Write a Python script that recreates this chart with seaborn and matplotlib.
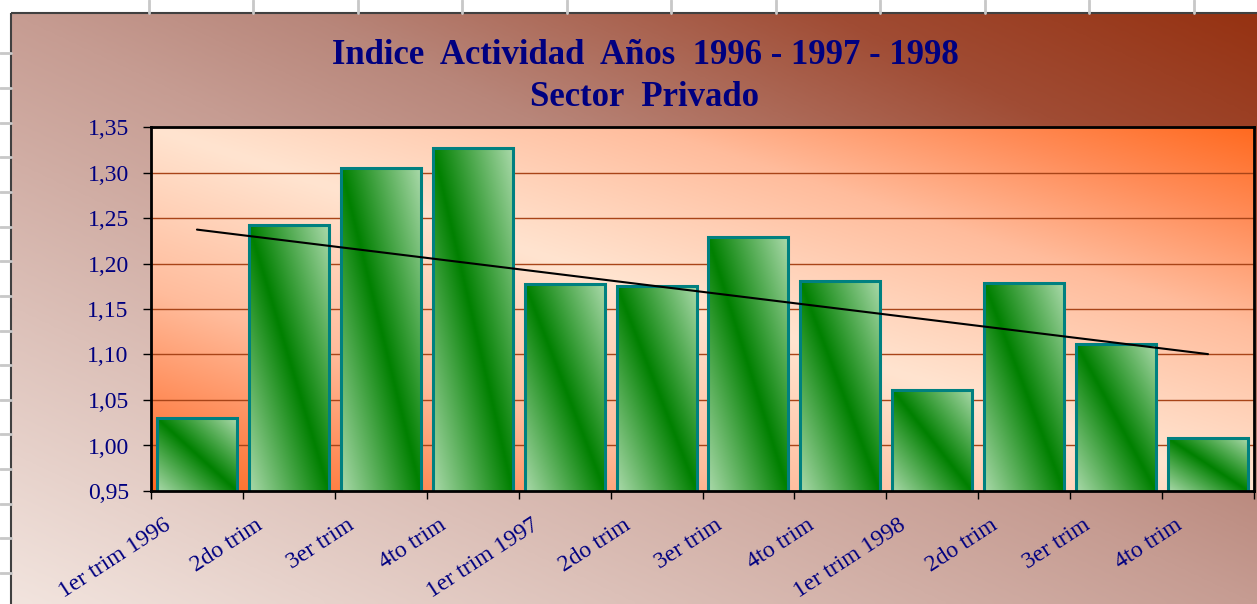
import numpy as np
import matplotlib
matplotlib.use("Agg")
import matplotlib.pyplot as plt
from matplotlib.colors import LinearSegmentedColormap
from matplotlib.patches import Rectangle
from matplotlib.transforms import ScaledTranslation
import seaborn as sns

# datos del grafico
trimestres = ["1er trim 1996", "2do trim", "3er trim", "4to trim",
              "1er trim 1997", "2do trim", "3er trim", "4to trim",
              "1er trim 1998", "2do trim", "3er trim", "4to trim"]
indice = [1.030, 1.242, 1.305, 1.327, 1.177, 1.175,
          1.229, 1.181, 1.061, 1.179, 1.112, 1.008]
y_ticks = [0.95, 1.00, 1.05, 1.10, 1.15, 1.20, 1.25, 1.30, 1.35]
titulo = "Indice  Actividad  Años  1996 - 1997 - 1998"
subtitulo = "Sector  Privado"

W, H = 1257, 604
AZUL = "#000080"
FUENTE = "Liberation Serif"

sns.set_theme(style="ticks")
plt.rcParams["font.family"] = [FUENTE, "DejaVu Serif"]

fig = plt.figure(figsize=(W / 100, H / 100), dpi=100)
fig.patch.set_facecolor("white")

# fondo: hoja de calculo + area del grafico con degradado
bg = fig.add_axes([0, 0, 1, 1])
bg.set_xlim(0, W)
bg.set_ylim(H, 0)
bg.axis("off")
for x in 148.5 + 104.55 * np.arange(11):
    bg.plot([x, x], [0, 13], color="#c8c8c8", lw=2)
for y in 53.3 + 34.65 * np.arange(16):
    bg.plot([0, 11], [y, y], color="#c8c8c8", lw=2)

cmap_fondo = LinearSegmentedColormap.from_list(
    "fondo", [(0, "#f2e4de"), (0.5, "#c69c92"), (0.62, "#b8867a"),
              (0.83, "#a04c34"), (1, "#963212")])
u, v = np.meshgrid(np.linspace(0, 1, 300), np.linspace(0, 1, 200))
bg.imshow((u + (1 - v)) / 2, extent=(11, W, H, 13), origin="upper",
          cmap=cmap_fondo, vmin=0, vmax=1, aspect="auto", interpolation="bicubic")
bg.add_patch(Rectangle((11, 13), W, H, fill=False, ec="#404040", lw=1.5))

# area de trazado
ax = fig.add_axes([151 / W, 1 - 491 / H, 1103 / W, 364 / H])
cmap_area = LinearSegmentedColormap.from_list(
    "area", [(0, "#ffe4d0"), (0.45, "#ffbc9c"), (0.75, "#ff8c58"), (1, "#ff6a20")])
ua, va = np.meshgrid(np.linspace(0, 1, 300), np.linspace(0, 1, 200))
ax.imshow(np.abs(ua + va - 1), extent=(0, 1, 0, 1), transform=ax.transAxes,
          origin="lower", cmap=cmap_area, vmin=0, vmax=1, aspect="auto",
          interpolation="bicubic", zorder=0)

posiciones = list(range(len(indice)))
sns.barplot(x=posiciones, y=indice, ax=ax, width=0.87, color="#008000",
            edgecolor="#008080", linewidth=2.2, zorder=2)

cmap_barra = LinearSegmentedColormap.from_list("barra", ["#008000", "#a8d8a8"])
ub, vb = np.meshgrid(np.linspace(0, 1, 60), np.linspace(0, 1, 60))
grad_barra = np.abs(ub + vb - 1)
for p in ax.patches:
    x0, w, h = p.get_x(), p.get_width(), p.get_height()
    ax.imshow(grad_barra, extent=(x0, x0 + w, y_ticks[0], h), origin="lower",
              cmap=cmap_barra, vmin=0, vmax=1, aspect="auto",
              interpolation="bicubic", zorder=1.8)
    p.set_facecolor("none")

# linea de tendencia (lineal)
pend, orden = np.polyfit(posiciones, indice, 1)
xs = np.array([posiciones[0], posiciones[-1]])
ax.plot(xs, pend * xs + orden, color="black", lw=1.5, zorder=3)

ax.set_xlim(-0.5, len(indice) - 0.5)
ax.set_ylim(y_ticks[0], y_ticks[-1])
ax.set_xlabel("")
ax.set_ylabel("")
ax.set_axisbelow(True)
ax.yaxis.grid(True, color="#a84418", lw=1.0)
ax.xaxis.grid(False)
for s in ax.spines.values():
    s.set_visible(True)
    s.set_color("black")
    s.set_linewidth(2)

ax.set_yticks(y_ticks)
ax.set_yticklabels([f"{t:.2f}".replace(".", ",") for t in y_ticks])
ax.tick_params(axis="y", length=6, width=1, color="black", pad=10,
               labelsize=17, labelcolor=AZUL)

ax.set_xticks(posiciones)
ax.set_xticklabels(trimestres, rotation=33, ha="right", rotation_mode="anchor")
ax.set_xticks(np.arange(-0.5, len(indice), 1), minor=True)
ax.tick_params(axis="x", which="major", length=0, pad=17,
               labelsize=17, labelcolor=AZUL)
ax.tick_params(axis="x", which="minor", length=6, width=1, color="black")
desplaza = ScaledTranslation(-0.34, 0, fig.dpi_scale_trans)
for lab in ax.get_xticklabels():
    lab.set_transform(lab.get_transform() + desplaza)

fig.text(645 / W, 1 - 55 / H, titulo, ha="center", va="center", fontsize=25,
         fontweight="bold", color=AZUL)
fig.text(645 / W, 1 - 97 / H, subtitulo, ha="center", va="center", fontsize=25,
         fontweight="bold", color=AZUL)

fig.savefig("out.png", dpi=100)
